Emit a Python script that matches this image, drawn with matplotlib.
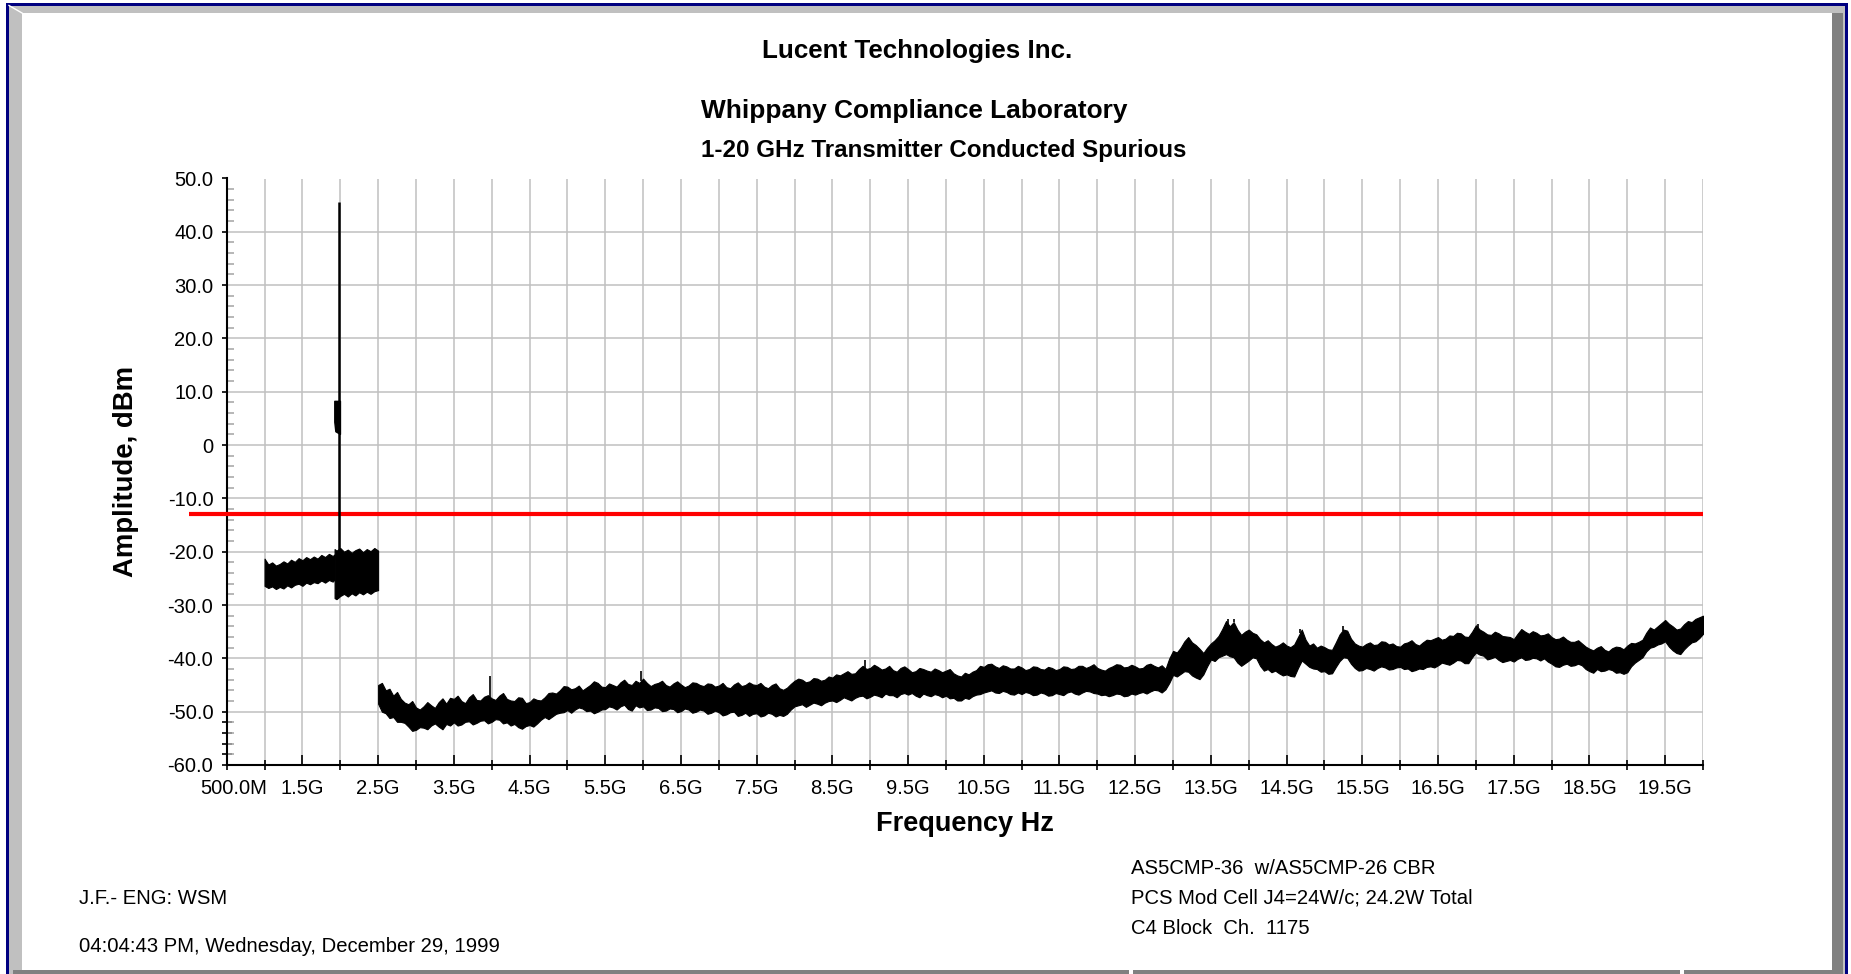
import numpy as np
import matplotlib
matplotlib.use("Agg")
import matplotlib.pyplot as plt
import matplotlib.transforms as mtransforms
from matplotlib.patches import Rectangle
from matplotlib.lines import Line2D
from matplotlib.ticker import FixedLocator, FixedFormatter

plt.rcParams['font.family'] = ['Liberation Sans', 'DejaVu Sans']

# ---------------- data ----------------
title_lines = ["Lucent Technologies Inc.",
               "Whippany Compliance Laboratory",
               "1-20 GHz Transmitter Conducted Spurious"]
x_label = "Frequency Hz"
y_label = "Amplitude, dBm"
footer_left = ["J.F.- ENG: WSM",
               "04:04:43 PM, Wednesday, December 29, 1999"]
footer_right = ["AS5CMP-36  w/AS5CMP-26 CBR",
                "PCS Mod Cell J4=24W/c; 24.2W Total",
                "C4 Block  Ch.  1175"]

x_major = [0.5, 1.5, 2.5, 3.5, 4.5, 5.5, 6.5, 7.5, 8.5, 9.5, 10.5, 11.5,
           12.5, 13.5, 14.5, 15.5, 16.5, 17.5, 18.5, 19.5]
x_tick_labels = ["500.0M", "1.5G", "2.5G", "3.5G", "4.5G", "5.5G", "6.5G",
                 "7.5G", "8.5G", "9.5G", "10.5G", "11.5G", "12.5G", "13.5G",
                 "14.5G", "15.5G", "16.5G", "17.5G", "18.5G", "19.5G"]
x_minor = [0.5, 1.0, 2.0, 3.0, 4.0, 5.0, 6.0, 7.0, 8.0, 9.0, 10.0, 11.0, 12.0,
           13.0, 14.0, 15.0, 16.0, 17.0, 18.0, 19.0, 20.0]
y_major = [-60, -50, -40, -30, -20, -10, 0, 10, 20, 30, 40, 50]
y_tick_labels = ["-60.0", "-50.0", "-40.0", "-30.0", "-20.0", "-10.0", "0",
                 "10.0", "20.0", "30.0", "40.0", "50.0"]
y_minor = [v for v in range(-58, 50, 2) if v % 10 != 0]
y_dark_minor = [-58, -56, -54, -52]

# limit line (dBm) and its span (GHz)
limit_db = -13.0
limit_f = [0.0, 20.0]

# segment A : 1.0 - 1.925 GHz (envelope of noise trace, dBm)
freq_a = [1.00, 1.05, 1.10, 1.15, 1.20, 1.25, 1.30, 1.35, 1.40, 1.45, 1.50,
          1.55, 1.60, 1.65, 1.70, 1.75, 1.80, 1.85, 1.90, 1.925]
hi_a = [-21.3, -22.4, -22.0, -22.6, -22.3, -21.8, -22.2, -21.5, -21.9, -21.2,
        -21.6, -21.0, -21.4, -20.9, -21.3, -20.6, -21.0, -20.4, -20.8, -20.5]
lo_a = [-26.4, -26.8, -26.5, -27.0, -26.6, -26.9, -26.3, -26.7, -26.2, -26.0,
        -26.4, -25.8, -26.1, -25.7, -25.9, -25.4, -25.8, -25.3, -25.6, -25.2]

# segment B : 1.925 - 2.5 GHz
freq_b = [1.925, 1.95, 2.00, 2.05, 2.10, 2.15, 2.20, 2.25, 2.30, 2.35, 2.40,
          2.45, 2.50]
hi_b = [-19.5, -19.8, -19.3, -20.0, -19.6, -20.2, -19.7, -19.4, -20.1, -19.5,
        -19.9, -19.3, -19.8]
lo_b = [-28.7, -28.9, -28.3, -27.9, -28.4, -27.8, -28.2, -27.6, -28.0, -27.5,
        -27.9, -27.4, -27.2]

# carrier
carrier_f = 1.987
carrier_peak = 45.6
carrier_base = -24.0
block_f = [1.921, 1.935, 1.996]
block_hi = [8.3, 8.3, 8.3]
block_lo = [4.4, 2.6, 2.1]

# segment C : 2.5 - 20.0 GHz, every 0.05 GHz (one row = 1 GHz)
hi_c = [
    -45.0, -44.6, -46.0, -45.7, -47.0, -46.3, -47.6, -48.3, -48.6, -48.0,
    -49.2, -49.6, -49.0, -48.2, -48.8, -49.3, -48.2, -47.5, -48.5, -47.4,
    -47.6, -47.0, -48.0, -48.4, -47.3, -46.7, -47.8, -47.9, -47.2, -46.9,
    -47.5, -47.8, -47.0, -46.5, -47.6, -47.9, -48.0, -47.3, -47.4, -48.4,
    -48.2, -47.5, -47.8, -47.9, -47.3, -46.5, -46.4, -46.6, -46.0, -45.2,
    -45.3, -45.8, -45.6, -45.1, -46.0, -45.5, -45.0, -44.3, -44.6, -45.3,
    -45.4, -44.7, -45.0, -45.3, -44.5, -44.0, -44.8, -45.0, -44.2, -44.6,
    -43.8, -44.6, -45.2, -44.8, -44.6, -44.2, -45.0, -45.3, -44.7, -44.3,
    -44.9, -45.4, -45.1, -44.5, -44.6, -45.0, -45.2, -44.7, -44.8, -45.3,
    -45.1, -44.6, -45.4, -45.6, -44.9, -44.5, -45.2, -45.0, -44.5, -44.9,
    -45.0, -44.6, -45.3, -45.6, -45.0, -44.7, -45.6, -45.9, -45.5, -44.8,
    -44.2, -43.8, -44.0, -44.5, -44.3, -43.7, -43.8, -44.2, -44.0, -43.4,
    -43.6, -43.0, -43.2, -42.8, -42.4, -42.9, -42.8, -42.0, -41.4, -42.0,
    -41.8, -41.2, -41.6, -42.1, -41.9, -41.4, -42.2, -42.5, -41.8, -41.5,
    -42.0, -42.6, -42.4, -41.8, -42.0, -42.3, -42.5, -41.9, -42.2, -42.6,
    -42.3, -42.0, -42.8, -43.2, -43.4, -42.7, -43.0, -42.5, -42.2, -41.4,
    -41.6, -41.1, -41.0, -41.5, -41.8, -41.3, -41.5, -41.9, -41.9, -41.4,
    -41.7, -42.2, -42.0, -41.5, -41.6, -42.0, -42.1, -41.6, -41.8, -42.2,
    -42.0, -41.5, -41.6, -42.0, -41.9, -41.4, -41.4, -41.8, -41.5, -41.1,
    -41.8, -42.1, -42.3, -41.8, -41.5, -41.1, -41.2, -41.7, -41.6, -41.2,
    -41.5, -41.9, -41.8, -41.2, -41.0, -41.4, -41.7, -41.3, -42.0, -40.0,
    -38.6, -38.9, -38.0, -36.8, -36.0, -37.0, -37.5, -38.2, -39.0, -38.0,
    -37.2, -36.6, -35.8, -34.5, -33.0, -34.0, -33.2, -34.6, -35.6, -35.0,
    -34.6, -35.2, -35.5, -36.4, -37.0, -36.6, -37.3, -37.8, -37.5, -37.0,
    -37.6, -37.9, -37.4, -36.0, -34.6, -36.5, -37.6, -37.2, -38.0, -37.6,
    -37.9, -38.3, -38.4, -37.0, -35.5, -34.6, -34.8, -36.3, -37.2, -37.6,
    -37.8, -37.3, -37.0, -37.5, -37.4, -36.8, -36.9, -37.4, -37.2, -37.7,
    -37.8, -37.2, -37.0, -36.6, -37.3, -37.6, -37.0, -36.5, -36.6, -36.3,
    -36.0, -36.5, -36.3, -35.7, -35.8, -35.2, -35.3, -35.9, -36.0, -35.0,
    -33.8, -34.6, -35.0, -35.5, -35.6, -35.0, -35.3, -35.8, -35.9, -36.0,
    -36.4, -35.4, -34.5, -35.0, -35.4, -34.9, -35.2, -35.7, -35.6, -35.3,
    -36.0, -36.4, -36.3, -35.9, -36.5, -36.9, -36.9, -36.6, -37.2, -37.8,
    -38.2, -38.5, -38.0, -37.7, -38.4, -38.7, -38.1, -37.8, -37.9, -38.3,
    -37.6, -37.1, -37.2, -36.9, -36.5, -35.2, -34.2, -34.6, -34.0, -33.4,
    -32.8, -33.5, -34.0, -34.6, -34.4, -33.6, -33.0, -33.2, -32.6, -32.3,
    -32.0]
lo_c = [
    -48.5, -50.0, -50.3, -51.2, -51.0, -51.9, -51.9, -52.1, -52.8, -53.6,
    -53.4, -52.9, -53.0, -53.3, -52.6, -52.2, -52.8, -53.3, -52.3, -52.6,
    -52.0, -52.6, -52.4, -51.9, -51.8, -52.4, -52.1, -51.7, -51.6, -52.2,
    -51.9, -51.4, -51.5, -52.2, -52.0, -52.6, -52.3, -52.9, -53.2, -52.7,
    -52.5, -52.8, -52.2, -51.5, -51.0, -51.4, -50.9, -50.4, -50.2, -50.1,
    -49.7, -50.2, -49.6, -49.2, -49.4, -49.9, -49.8, -50.3, -50.0, -49.6,
    -49.5, -49.0, -49.2, -49.6, -49.0, -48.7, -49.5, -49.8, -48.8, -49.2,
    -49.0, -49.7, -49.6, -49.2, -49.3, -49.9, -49.8, -49.4, -49.5, -50.1,
    -49.9, -49.4, -49.6, -50.2, -50.0, -49.6, -49.8, -50.4, -50.2, -49.8,
    -50.1, -50.7, -50.5, -50.1, -50.0, -50.8, -50.6, -50.2, -50.8, -50.4,
    -50.3, -50.9, -50.7, -50.2, -50.4, -50.9, -50.6, -50.8, -50.4, -49.6,
    -49.0, -48.8, -48.6, -49.1, -48.7, -48.3, -48.5, -48.8, -48.3, -48.0,
    -47.9, -48.2, -47.8, -47.3, -47.6, -47.9, -47.4, -47.1, -47.0, -47.5,
    -47.2, -46.8, -47.0, -47.3, -46.6, -46.9, -46.9, -47.3, -46.7, -46.5,
    -46.8, -46.5, -47.0, -47.3, -46.6, -46.9, -47.1, -46.7, -46.9, -47.3,
    -47.0, -47.5, -47.4, -47.9, -47.9, -47.4, -47.6, -47.1, -46.8, -46.7,
    -46.4, -46.2, -46.0, -46.4, -46.5, -46.1, -46.3, -46.7, -46.8, -46.4,
    -46.7, -46.3, -46.5, -46.9, -46.8, -46.4, -46.6, -47.0, -46.9, -46.5,
    -46.7, -46.9, -46.4, -46.2, -46.6, -46.8, -46.4, -46.1, -46.2, -46.5,
    -46.6, -46.9, -46.8, -47.1, -46.9, -46.6, -46.7, -47.1, -47.0, -46.6,
    -46.8, -46.5, -46.3, -46.6, -46.2, -45.9, -46.0, -46.4, -45.8, -44.6,
    -43.1, -43.4, -42.9, -42.4, -42.5, -43.2, -43.6, -43.9, -43.0, -41.5,
    -40.2, -40.5, -39.8, -39.5, -39.2, -39.6, -39.8, -40.8, -41.4, -40.9,
    -40.4, -39.8, -40.0, -41.4, -42.3, -42.0, -42.6, -42.3, -42.8, -43.2,
    -43.0, -43.3, -43.4, -41.8, -40.4, -41.0, -41.6, -41.9, -42.0, -42.5,
    -42.4, -42.9, -42.8, -41.6, -40.5, -39.8, -39.9, -41.0, -41.8, -42.3,
    -42.2, -41.8, -42.0, -42.3, -41.8, -41.5, -41.7, -42.1, -42.0, -41.7,
    -41.6, -42.0, -41.9, -42.4, -42.2, -41.9, -42.0, -41.6, -41.5, -41.7,
    -41.3, -40.8, -41.0, -41.2, -40.8, -40.3, -40.4, -40.9, -40.9, -39.8,
    -38.9, -39.3, -39.5, -40.2, -40.0, -39.7, -40.3, -40.7, -40.5, -40.3,
    -40.6, -40.1, -39.8, -40.3, -40.2, -39.9, -40.0, -40.4, -40.0, -40.6,
    -41.0, -41.5, -41.6, -41.2, -41.0, -41.4, -41.3, -41.0, -41.3, -42.0,
    -42.4, -42.7, -42.0, -42.4, -42.3, -42.0, -42.2, -42.7, -42.6, -42.9,
    -42.6, -41.5, -40.8, -40.3, -39.8, -38.7, -38.0, -37.8, -37.4, -37.2,
    -36.8, -37.8, -38.5, -39.0, -39.2, -38.3, -37.6, -37.0, -36.8, -36.2,
    -35.4]
freq_c_start, freq_c_step = 2.5, 0.05

# narrow spurs on top of the noise floor
spur_f = [3.98, 5.97, 8.93, 13.73, 13.80, 14.68, 15.24, 17.03]
spur_top = [-43.4, -42.3, -40.4, -32.6, -32.6, -34.4, -33.9, -33.5]

# ---------------- figure ----------------
W, H = 1851, 974
fig = plt.figure(figsize=(W / 100, H / 100), dpi=100)
fig.patch.set_facecolor('white')


def rect(x0, y0, x1, y1, color, z=0):
    fig.add_artist(Rectangle((x0 / W, 1 - y1 / H), (x1 - x0) / W, (y1 - y0) / H,
                             transform=fig.transFigure, facecolor=color,
                             edgecolor='none', zorder=z))


# window frame
rect(6, 3, 9, 974, '#000080')
rect(6, 3, 1848, 5.5, '#000080')
rect(1845, 3, 1848, 974, '#000080')
rect(9, 5.5, 22, 974, '#c0c0c0')
rect(9, 5.5, 1845, 13, '#c0c0c0')
rect(1832, 13, 1843, 974, '#808080')
rect(1843, 5.5, 1845, 974, '#c0c0c0')
rect(13, 970, 1843, 974, '#808080')
rect(1129, 970, 1133, 974, 'white', 1)
rect(1680, 970, 1684, 974, 'white', 1)
fig.add_artist(Line2D([9 / W, 22 / W], [1 - 5.5 / H, 1 - 13 / H],
                      transform=fig.transFigure, color='white', lw=1))

ax_l, ax_r, ax_t, ax_b = 226.7, 1703.0, 178.5, 765.0
ax = fig.add_axes([ax_l / W, 1 - ax_b / H, (ax_r - ax_l) / W, (ax_b - ax_t) / H])
ax.set_facecolor('white')
ax.set_xlim(0.5, 20.0)
ax.set_ylim(-60, 50)

# grid
ax.set_axisbelow(True)
ax.xaxis.set_major_locator(FixedLocator(x_major))
ax.xaxis.set_major_formatter(FixedFormatter(x_tick_labels))
ax.xaxis.set_minor_locator(FixedLocator(x_minor))
ax.xaxis.remove_overlapping_locs = False
ax.yaxis.set_major_locator(FixedLocator(y_major))
ax.yaxis.set_major_formatter(FixedFormatter(y_tick_labels))
ax.yaxis.set_minor_locator(FixedLocator(y_minor))
ax.grid(True, which='both', axis='x', color='#c0c0c0', lw=1.1)
ax.grid(True, which='major', axis='y', color='#c0c0c0', lw=1.1)

for s in ('top', 'right'):
    ax.spines[s].set_visible(False)
for s in ('left', 'bottom'):
    ax.spines[s].set_linewidth(1.5)
    ax.spines[s].set_color('black')

ax.tick_params(axis='x', which='major', direction='in', length=7.2, width=1.2,
               color='black', labelsize=14.5, pad=10.0)
ax.tick_params(axis='x', which='minor', direction='inout', length=7.2,
               width=1.2, color='black')
ax.tick_params(axis='y', which='major', direction='out', length=3.6, width=1.2,
               color='black', labelsize=14.5, pad=6.0)
ax.tick_params(axis='y', which='minor', direction='in', length=5.0, width=1.2,
               color='#aaaaaa')

# first x label sits a little right of its tick
first = ax.get_xticklabels()[0]
first.set_transform(first.get_transform() +
                    mtransforms.ScaledTranslation(7 / 100, 0, fig.dpi_scale_trans))

sec = ax.secondary_yaxis('left')
sec.yaxis.set_major_locator(FixedLocator(y_dark_minor))
sec.yaxis.set_minor_locator(FixedLocator([]))
sec.tick_params(axis='y', which='major', direction='inout', length=7.2,
                width=1.2, color='black', labelleft=False)
sec.spines['left'].set_visible(False)

# limit line
ax.plot(limit_f, [limit_db, limit_db], color='#ff0000', lw=3.0, clip_on=False,
        zorder=4, solid_capstyle='butt')

# trace
n = min(len(hi_c), len(lo_c))
freq_c = freq_c_start + freq_c_step * np.arange(n)
ax.fill_between(freq_a, lo_a, hi_a, color='black', lw=0.8, zorder=3)
ax.fill_between(freq_b, lo_b, hi_b, color='black', lw=0.8, zorder=3)
ax.fill_between(freq_c, lo_c[:n], hi_c[:n], color='black', lw=0.8, zorder=3)
ax.fill_between(block_f, block_lo, block_hi, color='black', lw=1.0, zorder=5)
ax.vlines(carrier_f, carrier_base, carrier_peak, color='black', lw=1.8, zorder=5)
spur_base = np.interp(spur_f, freq_c, hi_c[:n])
ax.vlines(spur_f, spur_base, spur_top, color='black', lw=1.2, zorder=3)

# axis labels
ax.set_xlabel(x_label, fontsize=19.5, fontweight='bold')
ax.xaxis.label.set_va('center')
ax.xaxis.set_label_coords(0.5, (ax_b - 824) / (ax_b - ax_t))
ax.set_ylabel(y_label, fontsize=19.8, fontweight='bold')
ax.yaxis.label.set_va('center')
ax.yaxis.set_label_coords((126 - ax_l) / (ax_r - ax_l), 0.5)


def ftext(x, y, s, **kw):
    fig.text(x / W, 1 - y / H, s, **kw)


# titles
ftext(762, 58, title_lines[0], fontsize=18.7, fontweight='bold', va='baseline')
ftext(701, 118, title_lines[1], fontsize=18.9, fontweight='bold', va='baseline')
ftext(701, 157, title_lines[2], fontsize=17.4, fontweight='bold', va='baseline')

# footer
ftext(79, 898, footer_left[0], fontsize=14.6, va='center')
ftext(79, 947, footer_left[1], fontsize=14.6, va='center')
for i, s in enumerate(footer_right):
    ftext(1131, 869 + 29.5 * i, s, fontsize=14.6, va='center')

fig.savefig('out.png', dpi=100, facecolor='white')
